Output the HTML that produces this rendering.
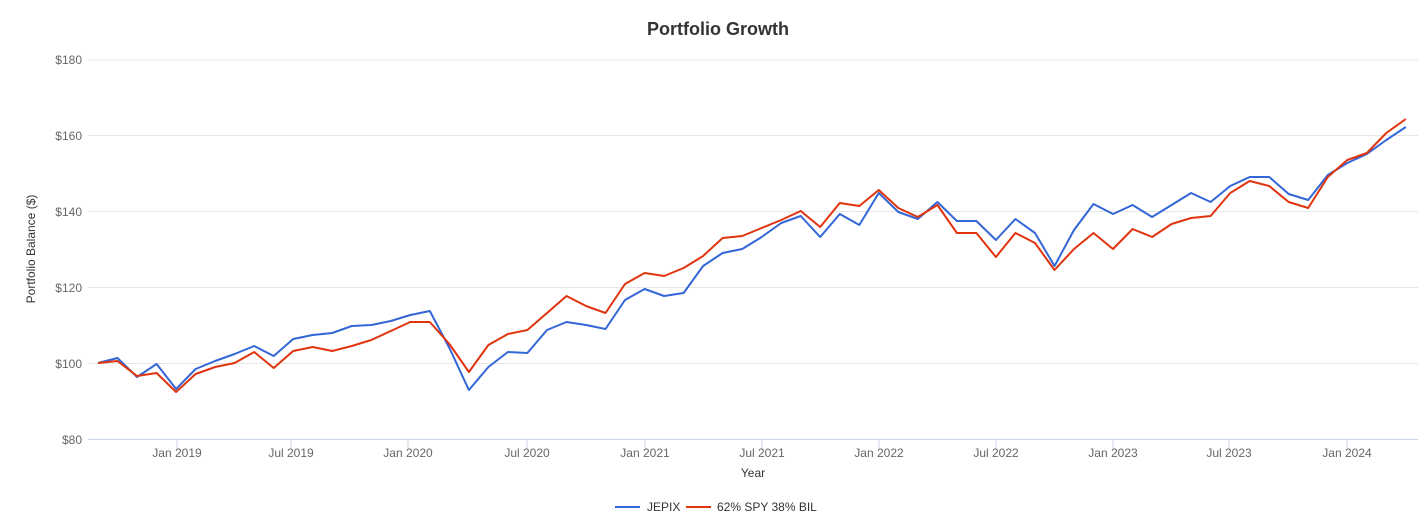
<!DOCTYPE html>
<html><head><meta charset="utf-8"><style>
body{margin:0;background:#fff;}
svg text{font-family:"Liberation Sans",Arial,sans-serif;}
</style></head><body>
<svg width="1428" height="519" viewBox="0 0 1428 519" xmlns="http://www.w3.org/2000/svg">
<rect width="1428" height="519" fill="#fff"/>
<text x="718" y="35" text-anchor="middle" font-size="18" font-weight="bold" fill="#333">Portfolio Growth</text>
<g stroke="#e6e6e6" stroke-width="1">
<line x1="88" y1="60" x2="1418" y2="60"/>
<line x1="88" y1="135.5" x2="1418" y2="135.5"/>
<line x1="88" y1="211.5" x2="1418" y2="211.5"/>
<line x1="88" y1="287.5" x2="1418" y2="287.5"/>
<line x1="88" y1="363.5" x2="1418" y2="363.5"/>
</g>
<line x1="88" y1="439.5" x2="1418" y2="439.5" stroke="#ccd6eb"/>
<g font-size="12" fill="#666" text-anchor="end">
<text x="82" y="64">$180</text>
<text x="82" y="140">$160</text>
<text x="82" y="216">$140</text>
<text x="82" y="292">$120</text>
<text x="82" y="368">$100</text>
<text x="82" y="444">$80</text>
</g>
<text transform="translate(35,249) rotate(-90)" text-anchor="middle" font-size="12" fill="#333">Portfolio Balance ($)</text>
<g stroke="#ccd6eb"><line x1="177" y1="439" x2="177" y2="449"/><line x1="291" y1="439" x2="291" y2="449"/><line x1="408" y1="439" x2="408" y2="449"/><line x1="527" y1="439" x2="527" y2="449"/><line x1="645" y1="439" x2="645" y2="449"/><line x1="762" y1="439" x2="762" y2="449"/><line x1="879" y1="439" x2="879" y2="449"/><line x1="996" y1="439" x2="996" y2="449"/><line x1="1113" y1="439" x2="1113" y2="449"/><line x1="1229" y1="439" x2="1229" y2="449"/><line x1="1347" y1="439" x2="1347" y2="449"/></g>
<g font-size="12" fill="#666" text-anchor="middle">
<text x="177" y="457">Jan 2019</text><text x="291" y="457">Jul 2019</text><text x="408" y="457">Jan 2020</text><text x="527" y="457">Jul 2020</text><text x="645" y="457">Jan 2021</text><text x="762" y="457">Jul 2021</text><text x="879" y="457">Jan 2022</text><text x="996" y="457">Jul 2022</text><text x="1113" y="457">Jan 2023</text><text x="1229" y="457">Jul 2023</text><text x="1347" y="457">Jan 2024</text>
</g>
<text x="753" y="477" text-anchor="middle" font-size="12" fill="#333">Year</text>
<polyline id="b" fill="none" stroke="#3366d6" stroke-width="2" stroke-linejoin="round" points=""/>
<polyline id="r" fill="none" stroke="#e0340f" stroke-width="2" stroke-linejoin="round" points=""/>
<line x1="615" y1="507" x2="640" y2="507" stroke="#3366d6" stroke-width="2"/>
<text x="647" y="511" font-size="12" fill="#333">JEPIX</text>
<line x1="686" y1="507" x2="711" y2="507" stroke="#e0340f" stroke-width="2"/>
<text x="717" y="511" font-size="12" fill="#333">62% SPY 38% BIL</text>
</svg>
<script>
var B=[363,358,377,364,389,369,361,354,346,356,339,335,333,326,325,321,315,311,348,390,367,352,353,330,322,325,329,300,289,296,293,266,253,249,237,223,216,237,214,225,193,212,219,202,221,221,240,219,233,266,230,204,214,205,217,205,193,202,186,177,177,194,200,175,163,154,140,127];
var R=[363,361,376,373,392,374,367,363,352,368,351,347,351,346,340,331,322,322,344,372,345,334,330,313,296,306,313,284,273,276,268,256,238,236,228,220,211,227,203,206,190,208,217,205,233,233,257,233,243,270,249,233,249,229,237,224,218,216,193,181,186,202,208,177,160,153,133,119];
function p(a){return a.map(function(y,i){return (98+i*19.52).toFixed(1)+","+y}).join(" ");}
document.getElementById("b").setAttribute("points",p(B));
document.getElementById("r").setAttribute("points",p(R));
</script>
</body></html>
